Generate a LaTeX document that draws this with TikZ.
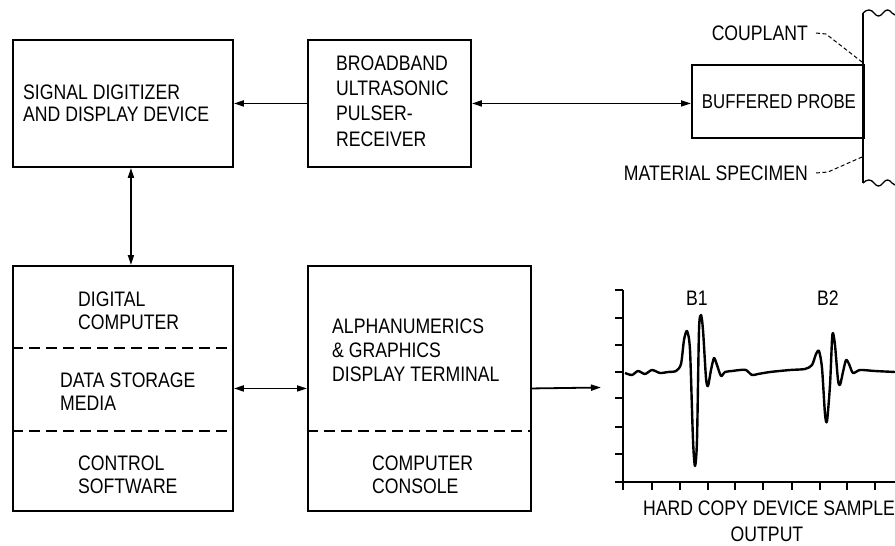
\documentclass[tikz,border=0pt]{standalone}
\usepackage{fontspec}
\setmainfont{Liberation Sans}[FakeStretch=0.84]
\usetikzlibrary{arrows.meta,decorations.pathmorphing}
\begin{document}
\begin{tikzpicture}[x=1pt,y=-1pt,
  box/.style={draw,line width=1.9pt,inner sep=0pt,anchor=north west},
  txt/.style={font=\fontsize{21}{23}\selectfont,inner sep=0pt,align=left,anchor=west},
  conn/.style={line width=1.8pt},
  tipR/.style={-{Triangle[length=10pt,width=6pt]}},
  tipB/.style={{Triangle[length=10pt,width=6pt]}-{Triangle[length=10pt,width=6pt]}},
  divider/.style={line width=1.6pt,dash pattern=on 11pt off 6pt},
  leader/.style={line width=1pt,dash pattern=on 4pt off 2.5pt},
  axis/.style={line width=2pt},
  wave/.style={line width=2.4pt,line join=round}
]
\useasboundingbox (0,0) rectangle (895,546);

% boxes
\node[box,minimum width=220pt,minimum height=127pt] (b1) at (12,39) {};
\node[box,minimum width=163pt,minimum height=127pt] (b2) at (307,39) {};
\node[box,minimum width=220pt,minimum height=245pt] (b3) at (12,265) {};
\node[box,minimum width=223pt,minimum height=245pt] (b4) at (307,265) {};
\node[box,minimum width=172pt,minimum height=73pt] (probe) at (691,64) {};

% texts
\node[txt,font=\fontsize{21}{22}\selectfont] (t1) at (23,103) {SIGNAL DIGITIZER\\AND DISPLAY DEVICE};
\node[txt,font=\fontsize{21}{25.3}\selectfont] (t2) at (336,101) {BROADBAND\\ULTRASONIC\\PULSER-\\RECEIVER};
\node[txt] (t3a) at (78,311) {DIGITAL\\COMPUTER};
\node[txt] (t3b) at (60,392) {DATA STORAGE\\MEDIA};
\node[txt] (t3c) at (78,475) {CONTROL\\SOFTWARE};
\node[txt,font=\fontsize{21}{24}\selectfont] (t4a) at (332,350) {ALPHANUMERICS\\\& GRAPHICS\\DISPLAY TERMINAL};
\node[txt] (t4b) at (372,475) {COMPUTER\\CONSOLE};
\node[txt,anchor=center,font=\fontsize{20}{22}\selectfont] (t5) at ([xshift=1pt]probe.center) {BUFFERED PROBE};

% dividers
\coordinate (d1) at (0,348);
\coordinate (d2) at (0,431);
\draw[divider] (b3.west |- d1) -- (b3.east |- d1);
\draw[divider] (b3.west |- d2) -- (b3.east |- d2);
\draw[divider] (b4.west |- d2) -- (b4.east |- d2);

% connectors
\draw[conn,tipR] (b2.west) -- (b1.east);
\draw[conn,tipB] (b2.east) -- (b2.east -| probe.west);
\draw[conn,tipB] ([xshift=8pt]b1.south) -- ([xshift=8pt]b3.north);
\draw[conn,tipB] (b3.east) -- (b4.west);
\coordinate (gin) at (601,387.5);
\draw[conn,tipR] (b4.east) -- (gin);

% material specimen
\coordinate (ms1) at (863,13);
\coordinate (ms2) at (863,183);
\draw[line width=1.6pt] (ms1) -- (ms2);
\draw[line width=1.3pt] (ms1) .. controls (867,9) and (871,9) .. (874,13) .. controls (877,17) and (880,17) .. (883,13) .. controls (886,9) and (889,9) .. (892,13) -- (895,15);
\draw[line width=1.3pt] (ms2) .. controls (867,179) and (871,179) .. (874,183) .. controls (877,187) and (880,187) .. (883,183) .. controls (886,179) and (889,179) .. (892,183) -- (895,185);
\node[txt,anchor=east] (cp) at (808,33) {COUPLANT};
\node[txt,anchor=east] (ms) at (808,173) {MATERIAL SPECIMEN};
\draw[leader] (cp.east) ++(8,0) coordinate (cpl) -- ++(10,1) -- (862,62);
\draw[leader] (ms.east) ++(8,0) coordinate (msl) -- ++(12,-1) -- (862,157);

% graph axes
\coordinate (o) at (623,482);
\coordinate (ytop) at (623,290);
\coordinate (xend) at (895,482);
\draw[axis] (ytop) -- (o) -- (xend);
\foreach \yy in {290,318,345,372,398,427,454,482} \draw[axis] (615,\yy) -- (623,\yy);
\foreach \xx in {623,652,680,708,735,763,792,820,847,875} \draw[axis] (\xx,482) -- (\xx,490);

% waveform
\draw[wave] plot[smooth,tension=0.45] coordinates {
(625,373) (632,375) (638,371) (645,374) (652,370) (660,373) (668,372) (676,371) (681,364) (684,340) (687,331) (690,350) (693,440) (695,466) (697,440) (699,330) (701,315) (703,330) (706,378) (708,386) (711,370) (714,358) (717,365) (721,376) (725,372) (732,371) (740,370) (746,370) (752,375) (758,374) (770,372) (790,370) (805,369) (812,365) (816,354) (819,351) (822,368) (825,414) (827,421) (830,385) (832,340) (833,333) (835,345) (838,380) (840,385) (843,372) (846,360) (849,364) (853,373) (860,370) (875,371) (895,372)};
\node[txt,anchor=center] (lb1) at (697,298) {B1};
\node[txt,anchor=center] (lb2) at (828,298) {B2};
\node[txt,anchor=center] (cap1) at (769,508) {HARD COPY DEVICE SAMPLE};
\node[txt,anchor=center] (cap2) at (767,534) {OUTPUT};
\end{tikzpicture}
\end{document}
